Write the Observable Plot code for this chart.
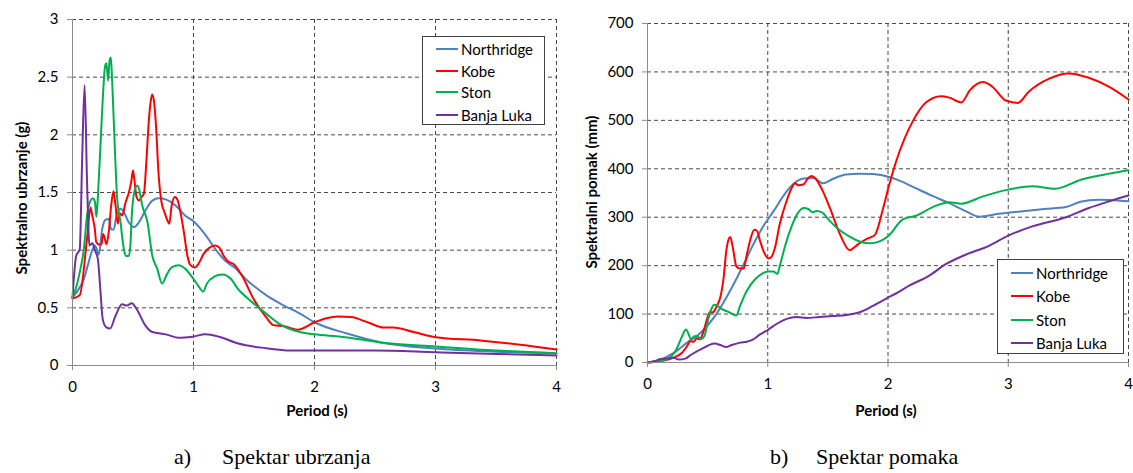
<!DOCTYPE html>
<html>
<head>
<meta charset="utf-8">
<script src="https://cdn.jsdelivr.net/npm/d3@7"></script>
<script src="https://cdn.jsdelivr.net/npm/@observablehq/plot@0.6"></script>
<style>
  html, body { margin: 0; padding: 0; background: #fff; }
  #root { position: relative; width: 1133px; height: 473px; overflow: hidden; font-family: Lato, sans-serif; color: #000; }
  .chart { position: absolute; top: 0; }
  .ytitle { position: absolute; transform: translate(-50%, -50%) rotate(-90deg); white-space: nowrap; font-weight: bold; font-size: 15px; }
  .xtitle { position: absolute; transform: translate(-50%, -50%); white-space: nowrap; font-weight: bold; font-size: 15px; }
  .legend { position: absolute; border: 1px solid #404040; background: #fff; box-sizing: border-box; }
  .legend .row { position: absolute; left: 0; display: flex; align-items: center; font-size: 15px; white-space: nowrap; transform: translateY(-50%); }
  .legend .sw { display: inline-block; width: 22px; height: 2px; margin-right: 3px; }
  .cap { position: absolute; font-family: "Liberation Serif", "Times New Roman", serif; font-size: 22px; white-space: nowrap; top: 444px; }
</style>
</head>
<body>
<div id="root"></div>
<script>
// ---------------- data ----------------
const seriesNames = ["Northridge", "Kobe", "Ston", "Banja Luka"];
const seriesColors = ["#4F81BD", "#FF0000", "#00B050", "#7030A0"];

// a) Spektar ubrzanja — [period (s), Sa (g)]
const accNorthridge = [[0,0.59],[0.05,0.66],[0.094,0.75],[0.135,0.90],[0.163,1.0],[0.185,1.04],[0.2,1.01],[0.217,0.96],[0.245,1.18],[0.27,1.26],[0.30,1.27],[0.32,1.18],[0.34,1.18],[0.364,1.30],[0.397,1.36],[0.424,1.33],[0.466,1.24],[0.507,1.20],[0.548,1.24],[0.60,1.34],[0.66,1.43],[0.713,1.45],[0.77,1.44],[0.85,1.39],[0.93,1.30],[1.0,1.25],[1.1,1.13],[1.18,1.01],[1.26,0.91],[1.35,0.84],[1.43,0.75],[1.51,0.68],[1.6,0.61],[1.72,0.535],[1.88,0.45],[2.0,0.375],[2.27,0.277],[2.55,0.20],[3.0,0.147],[3.5,0.12],[4,0.104]];
const accKobe = [[0,0.58],[0.06,0.61],[0.12,1.1],[0.149,1.37],[0.163,1.30],[0.185,1.18],[0.196,1.07],[0.218,1.05],[0.24,1.05],[0.253,1.14],[0.267,1.10],[0.28,1.05],[0.30,1.16],[0.32,1.39],[0.339,1.51],[0.355,1.39],[0.375,1.23],[0.39,1.32],[0.41,1.30],[0.44,1.42],[0.466,1.50],[0.485,1.59],[0.50,1.69],[0.51,1.62],[0.53,1.46],[0.55,1.43],[0.57,1.46],[0.59,1.49],[0.61,1.76],[0.63,2.11],[0.645,2.28],[0.658,2.35],[0.675,2.28],[0.69,2.08],[0.71,1.68],[0.735,1.42],[0.76,1.33],[0.78,1.27],[0.80,1.23],[0.82,1.39],[0.846,1.46],[0.87,1.43],[0.89,1.34],[0.92,1.16],[0.95,0.95],[0.975,0.87],[1.01,0.85],[1.04,0.88],[1.085,0.97],[1.13,1.02],[1.18,1.04],[1.215,1.02],[1.25,0.95],[1.29,0.90],[1.33,0.88],[1.40,0.78],[1.5,0.57],[1.6,0.42],[1.66,0.35],[1.75,0.34],[1.86,0.31],[2.0,0.375],[2.1,0.41],[2.19,0.425],[2.3,0.42],[2.45,0.37],[2.57,0.33],[2.65,0.33],[2.82,0.29],[3.0,0.245],[3.37,0.217],[3.7,0.18],[4,0.138]];
const accSton = [[0,0.59],[0.025,0.66],[0.066,0.84],[0.094,1.01],[0.12,1.30],[0.149,1.43],[0.168,1.45],[0.185,1.42],[0.198,1.29],[0.21,1.47],[0.23,1.88],[0.25,2.31],[0.27,2.60],[0.28,2.62],[0.295,2.47],[0.306,2.64],[0.317,2.67],[0.328,2.46],[0.35,1.88],[0.369,1.45],[0.397,1.24],[0.42,1.04],[0.44,0.95],[0.466,0.95],[0.48,1.07],[0.49,1.30],[0.51,1.50],[0.534,1.56],[0.55,1.53],[0.576,1.39],[0.62,1.24],[0.66,0.95],[0.70,0.84],[0.74,0.71],[0.78,0.79],[0.82,0.85],[0.88,0.87],[0.93,0.84],[1.0,0.75],[1.04,0.69],[1.08,0.64],[1.11,0.71],[1.17,0.77],[1.24,0.79],[1.31,0.75],[1.37,0.66],[1.44,0.59],[1.6,0.45],[1.72,0.355],[1.88,0.29],[2.0,0.27],[2.22,0.25],[2.55,0.20],[3.0,0.165],[3.5,0.13],[4,0.107]];
const accBanjaLuka = [[0,0.59],[0.03,0.95],[0.06,1.01],[0.08,1.8],[0.10,2.43],[0.12,1.6],[0.14,1.04],[0.165,1.06],[0.185,1.0],[0.21,0.92],[0.23,0.66],[0.25,0.40],[0.28,0.33],[0.31,0.32],[0.355,0.43],[0.41,0.53],[0.45,0.52],[0.49,0.54],[0.53,0.49],[0.60,0.35],[0.66,0.29],[0.77,0.27],[0.88,0.24],[0.99,0.25],[1.1,0.27],[1.21,0.25],[1.37,0.19],[1.6,0.15],[1.8,0.13],[2.5,0.13],[3,0.115],[3.5,0.10],[4,0.087]];

// b) Spektar pomaka — [period (s), Sd (mm)]
const dispNorthridge = [[0,0],[0.108,6],[0.218,20],[0.33,41],[0.44,61],[0.55,92],[0.63,123],[0.715,161],[0.80,203],[0.88,244],[0.964,282],[1.05,313],[1.13,344],[1.21,368],[1.30,380],[1.38,381],[1.46,370],[1.54,379],[1.65,388],[1.765,390],[1.875,389],[2.01,383],[2.1,375],[2.23,360],[2.37,344],[2.5,330],[2.65,312],[2.76,301],[2.92,307],[3.1,312],[3.3,317],[3.48,321],[3.6,332],[3.75,336],[3.88,335],[4.0,333]];
const dispKobe = [[0,0],[0.108,3],[0.218,10],[0.287,20],[0.33,34],[0.356,44],[0.384,43],[0.41,50],[0.434,48],[0.467,65],[0.494,89],[0.517,104],[0.536,103],[0.555,106],[0.577,117],[0.605,134],[0.633,175],[0.655,230],[0.674,254],[0.688,259],[0.71,237],[0.738,199],[0.765,194],[0.80,194],[0.826,223],[0.86,258],[0.887,274],[0.91,272],[0.936,251],[0.97,227],[1.005,215],[1.03,218],[1.06,237],[1.10,286],[1.157,334],[1.2,361],[1.227,370],[1.254,366],[1.3,368],[1.33,379],[1.365,385],[1.40,379],[1.45,358],[1.52,317],[1.60,265],[1.68,232],[1.75,244],[1.82,255],[1.89,263],[1.96,319],[2.01,367],[2.07,417],[2.21,500],[2.32,538],[2.44,550],[2.51,547],[2.61,537],[2.68,562],[2.79,579],[2.87,569],[2.98,541],[3.08,536],[3.17,559],[3.34,586],[3.5,597],[3.67,588],[3.84,569],[4.0,543]];
const dispSton = [[0,0],[0.108,3],[0.19,11],[0.246,30],[0.287,54],[0.32,68],[0.343,58],[0.36,48],[0.39,54],[0.417,54],[0.445,48],[0.472,54],[0.508,92],[0.536,113],[0.555,119],[0.583,117],[0.62,110],[0.66,106],[0.70,101],[0.738,97],[0.77,117],[0.826,148],[0.895,172],[0.95,183],[1.005,188],[1.047,188],[1.08,183],[1.10,199],[1.14,237],[1.2,282],[1.254,310],[1.30,319],[1.337,317],[1.373,310],[1.406,313],[1.45,310],[1.517,292],[1.60,273],[1.68,260],[1.765,250],[1.85,246],[1.93,250],[2.01,263],[2.12,295],[2.23,303],[2.40,324],[2.51,331],[2.61,328],[2.79,343],[3.0,357],[3.2,364],[3.39,359],[3.61,378],[3.84,390],[4.0,397]];
const dispBanjaLuka = [[0,0],[0.066,3],[0.108,7],[0.163,8],[0.218,10],[0.26,6],[0.315,8],[0.356,15],[0.41,23],[0.467,30],[0.52,37],[0.56,39],[0.605,36],[0.655,32],[0.70,36],[0.77,41],[0.826,43],[0.88,48],[0.936,58],[1.005,68],[1.075,80],[1.157,90],[1.24,94],[1.32,92],[1.43,94],[1.54,96],[1.655,98],[1.765,104],[1.875,117],[1.986,132],[2.09,146],[2.18,159],[2.34,179],[2.48,203],[2.65,223],[2.84,241],[3.0,262],[3.2,281],[3.48,300],[3.67,319],[3.84,333],[4.0,345]];

const xTicks = [0, 1, 2, 3, 4];
const accTicks = [0, 0.5, 1, 1.5, 2, 2.5, 3];
const dispTicks = [0, 100, 200, 300, 400, 500, 600, 700];

const xTitle = "Period (s)";
const accTitle = "Spektralno ubrzanje (g)";
const dispTitle = "Spektralni pomak (mm)";
const captionA = ["a)", "Spektar ubrzanja"];
const captionB = ["b)", "Spektar pomaka"];

// ---------------- drawing ----------------
const root = document.getElementById("root");

function makeChart({series, yTicks, yDomain, width, height, margins}) {
  const gridStyle = {stroke: "#4a4a4a", strokeWidth: 1, strokeDasharray: "4,3"};
  const marks = [
    Plot.ruleY(yTicks.filter(d => d !== 0), {...gridStyle}),
    Plot.ruleX(xTicks.filter(d => d !== 0), {...gridStyle}),
    ...series.map((s, i) => Plot.line(s, {
      x: d => d[0], y: d => d[1],
      stroke: seriesColors[i], strokeWidth: 2, curve: "monotone-x"
    })),
    Plot.ruleX([0], {stroke: "#8c8c8c", strokeWidth: 1}),
    Plot.ruleY([0], {stroke: "#8c8c8c", strokeWidth: 1}),
    Plot.axisX({ticks: xTicks, tickSize: 5, tickPadding: 11, stroke: "#8c8c8c", label: null, tickFormat: d => String(d)}),
    Plot.axisY({ticks: yTicks, tickSize: 5, tickPadding: 9, stroke: "#8c8c8c", label: null, tickFormat: d => String(d)})
  ];
  return Plot.plot({
    width, height,
    marginLeft: margins[0], marginRight: margins[1], marginTop: margins[2], marginBottom: margins[3],
    x: {domain: [0, 4]},
    y: {domain: yDomain},
    style: {fontFamily: "Lato, sans-serif", fontSize: "15px", color: "#000", background: "transparent", overflow: "visible"},
    marks
  });
}

const chartA = makeChart({
  series: [accNorthridge, accKobe, accSton, accBanjaLuka],
  yTicks: accTicks, yDomain: [0, 3],
  width: 570, height: 420, margins: [72, 14, 19, 55]
});
chartA.classList.add("chart");
chartA.style.left = "0px";
root.appendChild(chartA);

const chartB = makeChart({
  series: [dispNorthridge, dispKobe, dispSton, dispBanjaLuka],
  yTicks: dispTicks, yDomain: [0, 700],
  width: 558, height: 420, margins: [72, 5, 23, 58]
});
chartB.classList.add("chart");
chartB.style.left = "575px";
root.appendChild(chartB);

function addDiv(cls, text, left, top) {
  const d = document.createElement("div");
  d.className = cls;
  d.textContent = text;
  d.style.left = left + "px";
  d.style.top = top + "px";
  root.appendChild(d);
  return d;
}

addDiv("ytitle", accTitle, 21, 198);
addDiv("ytitle", dispTitle, 591, 192);
addDiv("xtitle", xTitle, 317, 410);
addDiv("xtitle", xTitle, 886, 410);

function addLegend(left, top, w, h, rowYs) {
  const lg = document.createElement("div");
  lg.className = "legend";
  Object.assign(lg.style, {left: left + "px", top: top + "px", width: w + "px", height: h + "px"});
  seriesNames.forEach((name, i) => {
    const row = document.createElement("div");
    row.className = "row";
    row.style.top = rowYs[i] + "px";
    row.style.left = "13px";
    const sw = document.createElement("span");
    sw.className = "sw";
    sw.style.background = seriesColors[i];
    const t = document.createElement("span");
    t.textContent = name;
    row.appendChild(sw);
    row.appendChild(t);
    lg.appendChild(row);
  });
  root.appendChild(lg);
}
addLegend(422, 36, 123, 89, [12, 34, 55, 78]);
addLegend(997, 259, 127, 95, [12.5, 36, 59.5, 83]);

addDiv("cap", captionA[0], 174, 444);
addDiv("cap", captionA[1], 222, 444);
addDiv("cap", captionB[0], 770, 444);
addDiv("cap", captionB[1], 816, 444);
</script>
</body>
</html>
